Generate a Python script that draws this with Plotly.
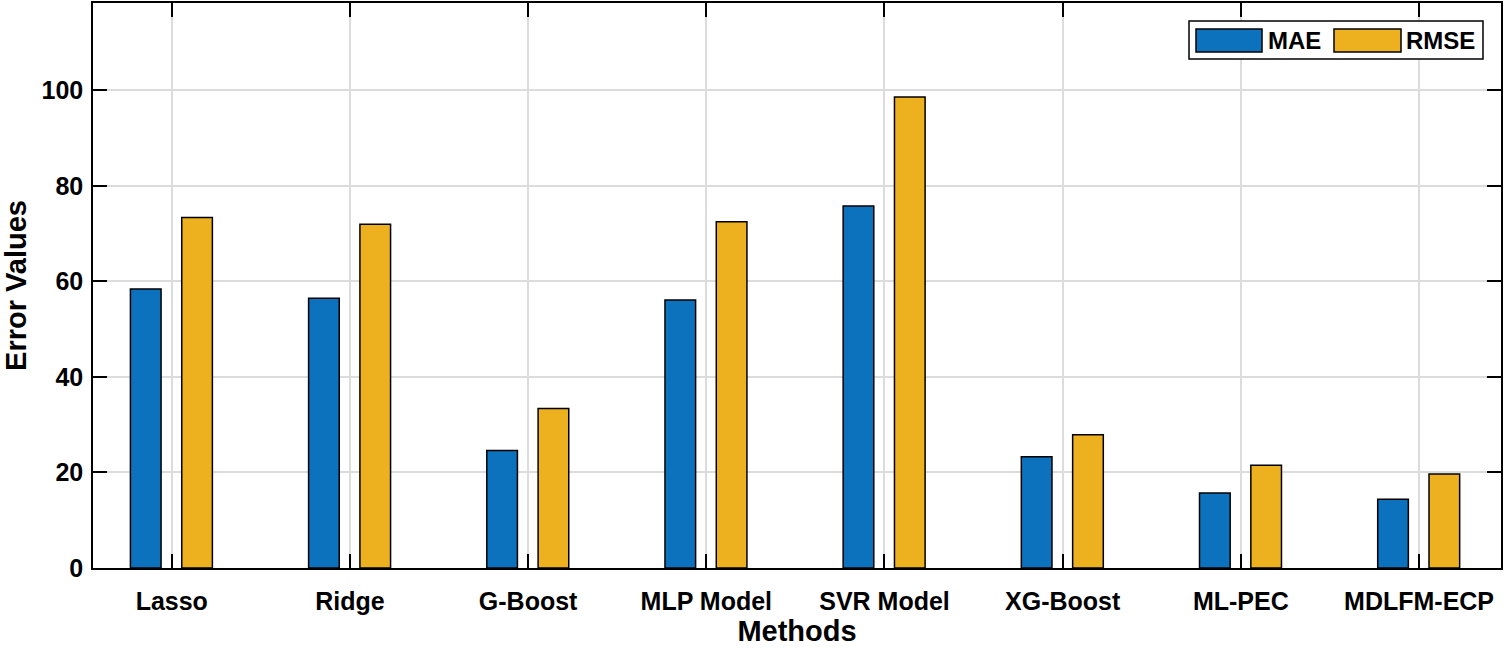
import plotly.graph_objects as go

methods = ["Lasso", "Ridge", "G-Boost", "MLP Model", "SVR Model", "XG-Boost", "ML-PEC", "MDLFM-ECP"]
mae = [58.4, 56.5, 24.6, 56.1, 75.8, 23.3, 15.7, 14.4]
rmse = [73.4, 72.0, 33.4, 72.5, 98.6, 27.9, 21.5, 19.7]
y_ticks = [0, 20, 40, 60, 80, 100]

BLUE = "#0C72BD"
GOLD = "#EDB120"
FONT = "Liberation Sans, Arial, sans-serif"

fig = go.Figure()
fig.add_trace(go.Bar(x=methods, y=mae, name="MAE", marker=dict(color=BLUE, line=dict(color="black", width=1.5)),
                     width=0.172, offset=-0.232, showlegend=False))
fig.add_trace(go.Bar(x=methods, y=rmse, name="RMSE", marker=dict(color=GOLD, line=dict(color="black", width=1.5)),
                     width=0.172, offset=0.056, showlegend=False))

axis_common = dict(
    showline=True, linecolor="black", linewidth=1.5, mirror="ticks",
    ticks="inside", ticklen=14, tickwidth=1.5, tickcolor="black",
    showgrid=True, gridcolor="#DCDCDC", gridwidth=1.5,
    tickfont=dict(family=FONT, size=25, color="black", weight="bold"),
    zeroline=False, automargin=False,
)

fig.update_layout(
    width=1505, height=649,
    margin=dict(l=93, r=4, t=3, b=81),
    paper_bgcolor="white", plot_bgcolor="white",
    barmode="overlay",
    font=dict(family=FONT, color="black"),
    xaxis=dict(**axis_common, type="category", range=[-0.442, 7.46],
               ticklabelstandoff=10,
               title=dict(text="Methods", font=dict(family=FONT, size=29, color="black", weight="bold"), standoff=2)),
    yaxis=dict(**axis_common, range=[0, 118.3], tickvals=y_ticks,
               ticklabelstandoff=3,
               title=dict(text="Error Values", font=dict(family=FONT, size=29, color="black", weight="bold"), standoff=12)),
)

# Legend box (MATLAB style) drawn in paper coordinates
def px_x(px):
    return (px - 93) / (1501 - 93)

def px_y(py):
    return (568 - py) / (568 - 3)

fig.add_shape(type="rect", xref="paper", yref="paper",
              x0=px_x(1189), x1=px_x(1483), y0=px_y(59), y1=px_y(21),
              line=dict(color="black", width=1.5), fillcolor="white", layer="above")
legend_items = [("MAE", BLUE, 1196, 1262, 1266), ("RMSE", GOLD, 1334, 1401, 1404)]
for label, color, a, b, t in legend_items:
    fig.add_shape(type="rect", xref="paper", yref="paper",
                  x0=px_x(a), x1=px_x(b), y0=px_y(52), y1=px_y(29),
                  line=dict(color="black", width=1.5), fillcolor=color, layer="above")
    fig.add_annotation(xref="paper", yref="paper", x=px_x(t), y=px_y(40.5),
                       text=label, showarrow=False, xanchor="left", yanchor="middle",
                       font=dict(family=FONT, size=24, color="black", weight="bold"))

fig.write_html("out.html", config={"displayModeBar": False},
               post_script="document.body.style.margin='0';document.body.style.overflow='hidden';")
